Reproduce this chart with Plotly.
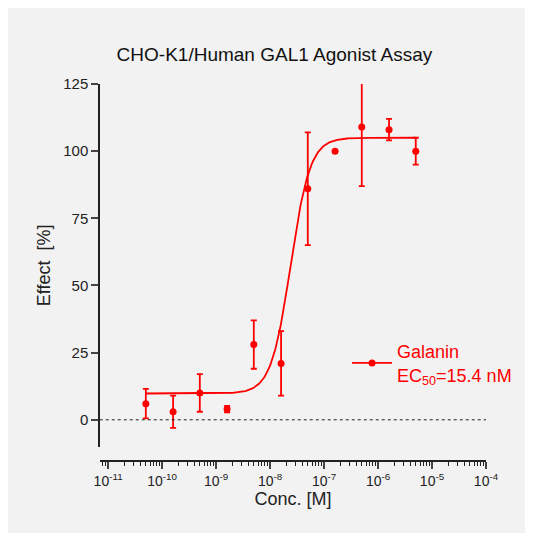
import numpy as np
import plotly.graph_objects as go

conc = [5e-11, 1.6e-10, 5e-10, 1.6e-9, 5e-9, 1.6e-8, 5e-8, 1.6e-7, 5e-7, 1.6e-6, 5e-6]
effect = [6, 3, 10, 4, 28, 21, 86, 100, 109, 108, 100]
err = [5.5, 6, 7, 1.2, 9, 12, 21, 0, 22, 4, 5]
bottom, top, logec50, hill = 9.8, 105, -7.62, 2.4
tickvals = [10.0**k for k in range(-11, -3)]
ticktext = ["10<sup>%d</sup>" % k for k in range(-11, -3)]

xf = np.logspace(np.log10(5e-11), np.log10(5e-6), 300)
yf = bottom + (top - bottom) / (1 + 10 ** ((logec50 - np.log10(xf)) * hill))

red = "#ff0000"
fig = go.Figure()
fig.add_trace(go.Scatter(x=xf, y=yf, mode="lines", line=dict(color=red, width=1.8),
                         showlegend=False, hoverinfo="skip"))
fig.add_trace(go.Scatter(x=conc, y=effect, mode="markers",
                         marker=dict(color=red, size=7),
                         error_y=dict(type="data", array=err, color=red, thickness=1.8, width=3),
                         showlegend=False))
fig.add_trace(go.Scatter(x=[None], y=[None], mode="lines+markers", line=dict(color=red, width=1.8),
                         marker=dict(color=red, size=7), name="Galanin<br>EC<sub>50</sub>=15.4 nM"))
fig.add_shape(type="line", xref="x", yref="y", x0=7e-12, x1=1e-4, y0=0, y1=0,
              line=dict(color="#222", width=1, dash="dot"))
fig.update_layout(
    width=533, height=533, paper_bgcolor="#f2f2f2", plot_bgcolor="#f2f2f2",
    margin=dict(l=92, r=55, t=76, b=80),
    font=dict(family="Liberation Sans, Arial", size=15, color="#222"),
    title=dict(text="CHO-K1/Human GAL1 Agonist Assay", x=0.5, xanchor="center", y=0.925,
               font=dict(size=19, color="#111")),
    legend=dict(x=0.64, y=0.26, xanchor="left", yanchor="middle", bgcolor="rgba(0,0,0,0)",
                font=dict(color=red, size=18), itemwidth=40),
    xaxis=dict(type="log", range=[-11.15, -4], tickvals=tickvals, ticktext=ticktext,
               anchor="free", position=0, showline=True, linecolor="#222", linewidth=1.5,
               ticks="outside", ticklen=7, tickwidth=1.5, showgrid=False, zeroline=False,
               minor=dict(ticks="outside", ticklen=4, tickwidth=1.2, dtick="D1", tickcolor="#222", showgrid=False),
               title=dict(text="Conc. [M]", standoff=2), tickfont=dict(size=14)),
    yaxis=dict(domain=[0.038, 1], range=[-10, 125], tickvals=[0, 25, 50, 75, 100, 125],
               showline=True, linecolor="#222", linewidth=1.5, ticks="outside", ticklen=7,
               tickwidth=1.5, showgrid=False, zeroline=False,
               title=dict(text="Effect  [%]", standoff=8), tickfont=dict(size=15)),
)
fig.write_html("out.html")
